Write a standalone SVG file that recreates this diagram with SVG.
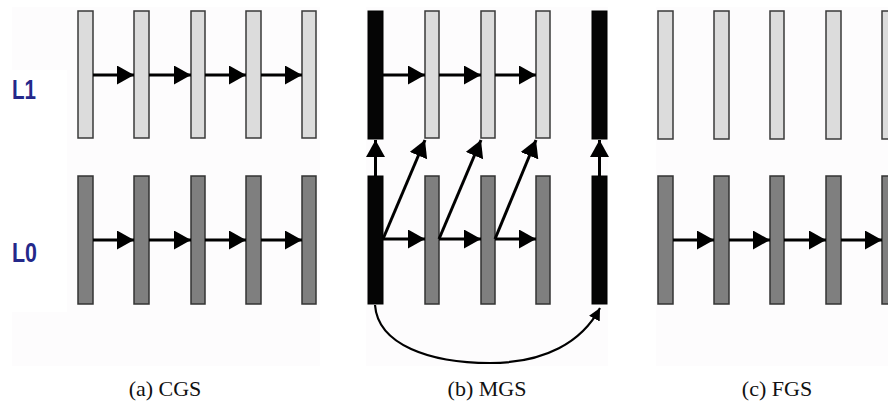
<svg xmlns="http://www.w3.org/2000/svg" width="888" height="407" viewBox="0 0 888 407">
  <style>
    .panel { fill: #fdfcfd; }
    .hi { fill: #dcdcdc; stroke: #3a3a3a; stroke-width: 1.5; }
    .lo { fill: #7f7f7f; stroke: #333333; stroke-width: 1.5; }
    .key { fill: #050505; stroke: #000000; stroke-width: 1; }
    .lvl { font-family: "Liberation Sans", Arial, sans-serif; font-weight: bold; font-size: 28px; fill: #24288a; }
    .cap { font-family: "Liberation Serif", "Times New Roman", serif; font-size: 22px; fill: #111111; text-anchor: middle; }
    .ref { stroke: #000000; stroke-width: 3; fill: none; marker-end: url(#head); }
    .loop { stroke: #000000; stroke-width: 2.2; fill: none; marker-end: url(#headSmall); }
  </style>
  <defs>
    <marker id="head" markerUnits="userSpaceOnUse" markerWidth="19" markerHeight="20" refX="17" refY="9.5" orient="auto">
      <path d="M0,0 L17,9.5 L0,19 Z" fill="#000000"/>
    </marker>
    <marker id="headSmall" markerUnits="userSpaceOnUse" markerWidth="14" markerHeight="14" refX="12" refY="6" orient="auto">
      <path d="M0,0 L12,6 L0,12 Z" fill="#000000"/>
    </marker>
  </defs>

  <rect width="888" height="407" fill="#ffffff"/>

  <!-- background panels -->
  <g id="panels">
    <rect class="panel" x="12" y="7" width="308" height="359"/>
    <rect x="0" y="70" width="67" height="242" fill="#ffffff"/>
    <rect class="panel" x="366" y="7" width="242" height="359"/>
    <rect class="panel" x="656" y="7" width="232" height="359"/>
  </g>

  <!-- level labels -->
  <g id="labels">
    <text class="lvl" x="12" y="99" textLength="24" lengthAdjust="spacingAndGlyphs">L1</text>
    <text class="lvl" x="12" y="262" textLength="25" lengthAdjust="spacingAndGlyphs">L0</text>
  </g>

  <!-- (a) coarse grain scalability -->
  <g id="cgs-l1">
    <rect class="hi" x="78" y="11" width="15" height="127"/>
    <rect class="hi" x="134" y="11" width="15" height="127"/>
    <rect class="hi" x="191" y="11" width="14" height="127"/>
    <rect class="hi" x="246" y="11" width="15" height="127"/>
    <rect class="hi" x="302" y="11" width="14" height="127"/>
  </g>
  <g id="cgs-l0">
    <rect class="lo" x="78" y="176" width="15" height="128"/>
    <rect class="lo" x="134" y="176" width="15" height="128"/>
    <rect class="lo" x="191" y="176" width="14" height="128"/>
    <rect class="lo" x="246" y="176" width="15" height="128"/>
    <rect class="lo" x="302" y="176" width="14" height="128"/>
  </g>

  <!-- (b) medium grain scalability -->
  <g id="mgs-l1">
    <rect class="key" x="368" y="11" width="15" height="128"/>
    <rect class="hi" x="425" y="11" width="14" height="127"/>
    <rect class="hi" x="481" y="11" width="14" height="127"/>
    <rect class="hi" x="536" y="11" width="14" height="127"/>
    <rect class="key" x="592" y="11" width="15" height="128"/>
  </g>
  <g id="mgs-l0">
    <rect class="key" x="368" y="176" width="15" height="128"/>
    <rect class="lo" x="425" y="176" width="14" height="128"/>
    <rect class="lo" x="481" y="176" width="14" height="128"/>
    <rect class="lo" x="536" y="176" width="14" height="128"/>
    <rect class="key" x="592" y="176" width="15" height="128"/>
  </g>

  <!-- (c) fine grain scalability -->
  <g id="fgs-l1">
    <rect class="hi" x="658" y="11" width="15" height="128"/>
    <rect class="hi" x="714" y="11" width="15" height="128"/>
    <rect class="hi" x="770" y="11" width="14" height="128"/>
    <rect class="hi" x="826" y="11" width="15" height="128"/>
    <rect class="hi" x="882" y="11" width="15" height="128"/>
  </g>
  <g id="fgs-l0">
    <rect class="lo" x="658" y="176" width="15" height="128"/>
    <rect class="lo" x="714" y="176" width="15" height="128"/>
    <rect class="lo" x="770" y="176" width="14" height="128"/>
    <rect class="lo" x="826" y="176" width="15" height="128"/>
    <rect class="lo" x="882" y="176" width="15" height="128"/>
  </g>

  <!-- prediction references -->
  <g id="connectors">
    <!-- (a) -->
    <line class="ref" x1="93" y1="75" x2="134" y2="75"/>
    <line class="ref" x1="149" y1="75" x2="191" y2="75"/>
    <line class="ref" x1="205" y1="75" x2="246" y2="75"/>
    <line class="ref" x1="261" y1="75" x2="302" y2="75"/>
    <line class="ref" x1="93" y1="240" x2="134" y2="240"/>
    <line class="ref" x1="149" y1="240" x2="191" y2="240"/>
    <line class="ref" x1="205" y1="240" x2="246" y2="240"/>
    <line class="ref" x1="261" y1="240" x2="302" y2="240"/>
    <!-- (b) -->
    <line class="ref" x1="383" y1="75" x2="425" y2="75"/>
    <line class="ref" x1="439" y1="75" x2="481" y2="75"/>
    <line class="ref" x1="495" y1="75" x2="536" y2="75"/>
    <line class="ref" x1="383" y1="239" x2="425" y2="239"/>
    <line class="ref" x1="439" y1="239" x2="481" y2="239"/>
    <line class="ref" x1="495" y1="239" x2="536" y2="239"/>
    <line class="ref" x1="375.5" y1="176" x2="375.5" y2="140"/>
    <line class="ref" x1="599.5" y1="176" x2="599.5" y2="140"/>
    <line class="ref" x1="383" y1="239" x2="425" y2="140"/>
    <line class="ref" x1="439" y1="239" x2="481" y2="140"/>
    <line class="ref" x1="495" y1="239" x2="536" y2="140"/>
    <path class="loop" d="M375,305 C378,345 430,363 490,363 C545,363 582,342 600,308"/>
    <!-- (c) -->
    <line class="ref" x1="673" y1="240" x2="714" y2="240"/>
    <line class="ref" x1="729" y1="240" x2="770" y2="240"/>
    <line class="ref" x1="784" y1="240" x2="826" y2="240"/>
    <line class="ref" x1="841" y1="240" x2="882" y2="240"/>
  </g>

  <!-- captions -->
  <g id="captions">
    <text class="cap" x="165" y="396">(a) CGS</text>
    <text class="cap" x="487" y="396">(b) MGS</text>
    <text class="cap" x="777" y="396">(c) FGS</text>
  </g>
</svg>
